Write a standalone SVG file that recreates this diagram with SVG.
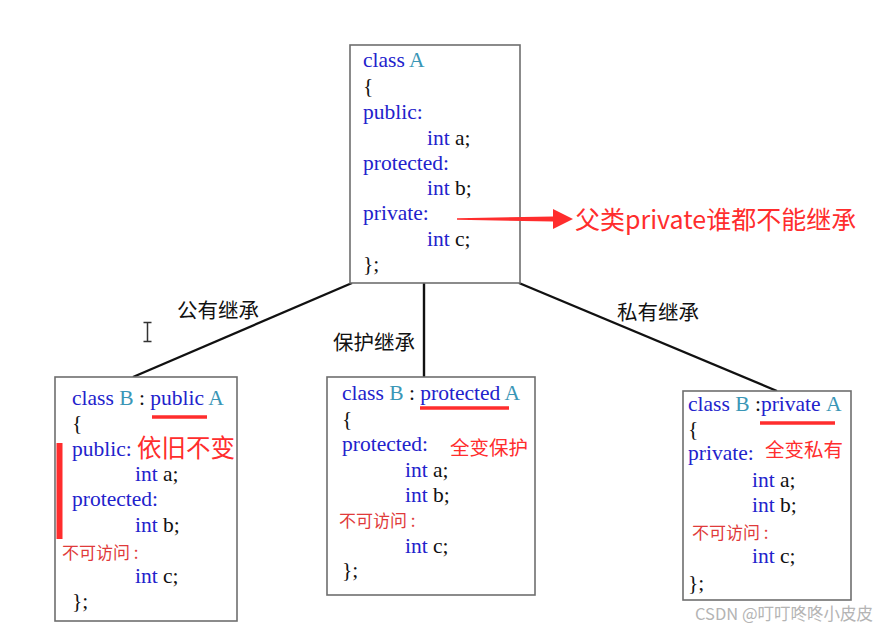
<svg xmlns="http://www.w3.org/2000/svg" width="879" height="629" viewBox="0 0 879 629">
<style>
.box{fill:#ffffff;stroke:#6e6e6e;stroke-width:1.6}
.code{font-family:"Liberation Serif","Times New Roman",serif;font-size:21.5px;fill:#111111}
.kw{fill:#2222cc}
.cls{fill:#3a96b6}
.red{font-family:"Noto Sans CJK SC","Noto Sans",sans-serif;fill:#ff2d2d}
.na{font-family:"Noto Sans CJK SC","Noto Sans",sans-serif;font-size:17px;fill:#e03a3a}
.lbl{font-family:"Noto Sans CJK SC","Noto Sans",sans-serif;font-size:20.5px;fill:#111111}
.conn{stroke:#111111;stroke-width:2.4;fill:none}
.ul{stroke:#ff2d2d;stroke-width:3.5}
</style>
<rect width="879" height="629" fill="#ffffff"/>

<g id="connectors">
<line class="conn" x1="352" y1="283" x2="133" y2="377"/>
<line class="conn" x1="424" y1="283" x2="424" y2="377"/>
<line class="conn" x1="519" y1="283" x2="777" y2="391"/>
<text class="lbl" x="177" y="318">公有继承</text>
<text class="lbl" x="333" y="350">保护继承</text>
<text class="lbl" x="617" y="320">私有继承</text>
</g>

<g id="cursor">
<path d="M143.5 322.5 H151.5 M147.5 322.5 V341.5 M143.5 341.5 H151.5" stroke="#333333" stroke-width="1.5" fill="none"/>
</g>

<g id="classA">
<rect class="box" x="350" y="45" width="170" height="238"/>
<text class="code" x="363" y="67"><tspan class="kw">class</tspan> <tspan class="cls">A</tspan></text>
<text class="code" x="363" y="93">{</text>
<text class="code kw" x="363" y="119">public:</text>
<text class="code" x="427" y="145"><tspan class="kw">int</tspan> a;</text>
<text class="code kw" x="363" y="170">protected:</text>
<text class="code" x="427" y="195"><tspan class="kw">int</tspan> b;</text>
<text class="code kw" x="363" y="220">private:</text>
<text class="code" x="427" y="246"><tspan class="kw">int</tspan> c;</text>
<text class="code" x="363" y="271">};</text>
</g>

<g id="note">
<polygon points="457,218.2 553,216.6 553,209 573,219 553,229 553,221.4 457,219.8" fill="#ff2d2d"/>
<text class="red" x="575" y="229" font-size="25">父类private谁都不能继承</text>
</g>

<g id="classB_public">
<rect class="box" x="55" y="377" width="182" height="244"/>
<text class="code" x="72" y="405"><tspan class="kw">class</tspan> <tspan class="cls">B</tspan> : <tspan class="kw">public</tspan> <tspan class="cls">A</tspan></text>
<line class="ul" x1="152" y1="417" x2="207" y2="417"/>
<text class="code" x="72" y="430">{</text>
<text class="code kw" x="72" y="456">public:</text>
<text class="red" x="137" y="457" font-size="24.5">依旧不变</text>
<text class="code" x="135" y="481"><tspan class="kw">int</tspan> a;</text>
<text class="code kw" x="72" y="506">protected:</text>
<text class="code" x="135" y="532"><tspan class="kw">int</tspan> b;</text>
<text class="na" x="62" y="559">不可访问 :</text>
<text class="code" x="135" y="583"><tspan class="kw">int</tspan> c;</text>
<text class="code" x="72" y="608">};</text>
<rect x="56.5" y="443" width="6" height="96" fill="#ff2d2d"/>
</g>

<g id="classB_protected">
<rect class="box" x="327" y="377" width="208" height="218"/>
<text class="code" x="342" y="400"><tspan class="kw">class</tspan> <tspan class="cls">B</tspan> : <tspan class="kw">protected</tspan> <tspan class="cls">A</tspan></text>
<line class="ul" x1="420" y1="408" x2="509" y2="408"/>
<text class="code" x="342" y="426">{</text>
<text class="code kw" x="342" y="451">protected:</text>
<text class="red" x="450" y="455" font-size="19.5">全变保护</text>
<text class="code" x="405" y="477"><tspan class="kw">int</tspan> a;</text>
<text class="code" x="405" y="502"><tspan class="kw">int</tspan> b;</text>
<text class="na" x="339" y="527">不可访问 :</text>
<text class="code" x="405" y="553"><tspan class="kw">int</tspan> c;</text>
<text class="code" x="342" y="577">};</text>
</g>

<g id="classB_private">
<rect class="box" x="683" y="391" width="168" height="209"/>
<text class="code" x="688" y="411"><tspan class="kw">class</tspan> <tspan class="cls">B</tspan> :<tspan class="kw">private</tspan> <tspan class="cls" x="826">A</tspan></text>
<line class="ul" x1="760" y1="423" x2="835" y2="423"/>
<text class="code" x="688" y="436">{</text>
<text class="code kw" x="688" y="460">private:</text>
<text class="red" x="765" y="457" font-size="19.5">全变私有</text>
<text class="code" x="752" y="487"><tspan class="kw">int</tspan> a;</text>
<text class="code" x="752" y="512"><tspan class="kw">int</tspan> b;</text>
<text class="na" x="692" y="539">不可访问 :</text>
<text class="code" x="752" y="563"><tspan class="kw">int</tspan> c;</text>
<text class="code" x="688" y="590">};</text>
</g>

<g id="watermark">
<text x="695" y="620" font-family="'Noto Sans CJK SC','Noto Sans',sans-serif" font-size="16.5" fill="#b4b4b4">CSDN @叮叮咚咚小皮皮</text>
</g>
</svg>
